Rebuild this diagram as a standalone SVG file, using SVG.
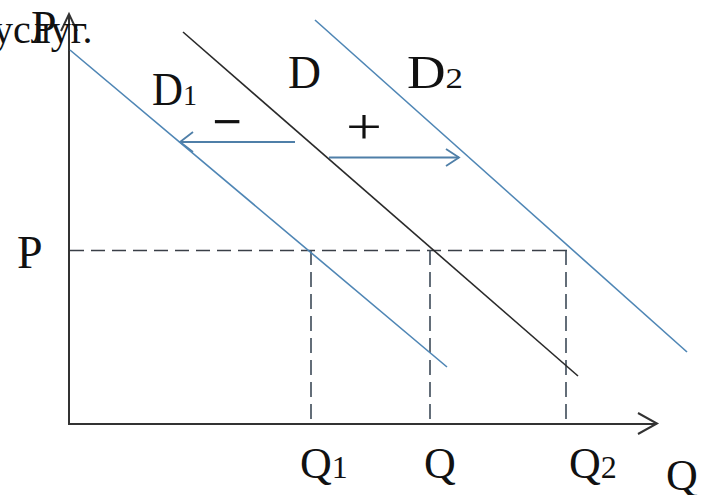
<svg xmlns="http://www.w3.org/2000/svg" width="705" height="495" viewBox="0 0 705 495">
<defs>
<style>
.t{font-family:"Liberation Serif","Times New Roman",serif;fill:#111}
.axis{stroke:#333;stroke-width:2;fill:none}
.blue{stroke:#4f86b5;stroke-width:1.6;fill:none}
.black{stroke:#2a2a2a;stroke-width:1.6;fill:none}
.dash{stroke:#3a3f47;stroke-width:1.6;fill:none;stroke-dasharray:14 7}
.vdash{stroke:#3d4a58;stroke-width:1.6;fill:none;stroke-dasharray:15 7}
.shift{stroke:#4f7fa8;stroke-width:1.8;fill:none}
</style>
</defs>
<rect width="705" height="495" fill="#ffffff"/>
<g id="connectors">
<g id="axes">
<path class="axis" d="M69,425 V14"/>
<path class="axis" d="M61,31 L69,14 L77,31"/>
<path class="axis" d="M69,424 H656"/>
<path class="axis" d="M638,413 L657,423.5 L638,434"/>
</g>
<g id="guides">
<path class="dash" d="M70,250.5 H567"/>
<path class="vdash" d="M311,250 V424"/>
<path class="vdash" d="M430,250 V424"/>
<path class="vdash" d="M566,250 V424"/>
</g>
<g id="shifts">
<path class="shift" d="M295,142 H180"/>
<path class="shift" d="M193,132 L180,142 L193,152"/>
<path class="shift" d="M329,157.5 H459"/>
<path class="shift" d="M446,149 L459,157.5 L446,166"/>
</g>
</g>
<g id="curve-D1"><path class="blue" d="M70,50 L447,367"/></g>
<g id="curve-D"><path class="black" d="M183,32 L578,376"/></g>
<g id="curve-D2"><path class="blue" d="M315,20 L687,352"/></g>
<g id="labels">
<text class="t" x="-7" y="43" font-size="40">услуг.</text>
<text class="t" x="31" y="43" font-size="46">P</text>
<text class="t" x="17" y="268" font-size="46">P</text>
<text class="t" x="152" y="105" font-size="46" textLength="45" lengthAdjust="spacingAndGlyphs">D<tspan font-size="30">1</tspan></text>
<text class="t" x="288" y="88" font-size="46" textLength="33" lengthAdjust="spacingAndGlyphs">D</text>
<text class="t" x="407" y="88" font-size="46" textLength="56" lengthAdjust="spacingAndGlyphs">D<tspan font-size="30">2</tspan></text>
<text class="t" x="212" y="137" font-size="46" font-weight="bold" textLength="30" lengthAdjust="spacingAndGlyphs">−</text>
<text class="t" x="346" y="144" font-size="50" textLength="36" lengthAdjust="spacingAndGlyphs">+</text>
<text class="t" x="300" y="478" font-size="44">Q<tspan font-size="32">1</tspan></text>
<text class="t" x="424" y="478" font-size="44">Q</text>
<text class="t" x="569" y="478" font-size="44">Q<tspan font-size="32">2</tspan></text>
<text class="t" x="666" y="490" font-size="44">Q</text>
</g>
</svg>
